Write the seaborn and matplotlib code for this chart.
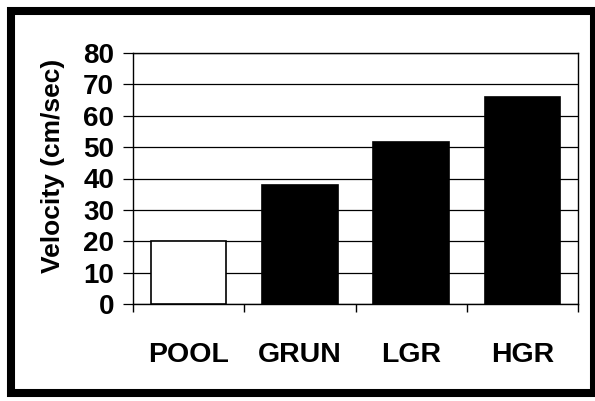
import matplotlib
matplotlib.use("Agg")
import matplotlib.pyplot as plt
import seaborn as sns
import pandas as pd
from matplotlib.patches import Rectangle

# values
categories = ["POOL", "GRUN", "LGR", "HGR"]
velocity = [20, 38, 51.5, 66]
bar_colors = ["white", "black", "black", "black"]
y_ticks = [0, 10, 20, 30, 40, 50, 60, 70, 80]

sns.set_theme(style="white")
plt.rcParams['font.family'] = ['Liberation Sans', 'DejaVu Sans']
plt.rcParams['font.weight'] = 'bold'
plt.rcParams['text.color'] = 'black'
plt.rcParams['axes.labelcolor'] = 'black'
plt.rcParams['xtick.color'] = 'black'
plt.rcParams['ytick.color'] = 'black'

df = pd.DataFrame({"site": categories, "velocity": velocity})

fig = plt.figure(figsize=(5.95, 4.01), dpi=100)
ax = fig.add_axes([133 / 595, 1 - 304 / 401, (578 - 133) / 595, (304 - 53) / 401])

sns.barplot(data=df, x="site", y="velocity", hue="site", palette=bar_colors,
            legend=False, width=0.68, edgecolor="black", linewidth=1.2,
            saturation=1, ax=ax, zorder=3)

ax.set_ylim(0, 80)
ax.set_xlim(-0.5, len(categories) - 0.5)
ax.set_yticks(y_ticks)
ax.set_yticklabels([str(t) for t in y_ticks], fontsize=20, fontweight="bold")
ax.yaxis.grid(True, color="black", linewidth=0.9, zorder=0)
ax.set_axisbelow(True)

# category labels sit well below the axis, ticks mark the boundaries
ax.set_xticks(range(len(categories)))
ax.set_xticklabels(categories, fontsize=20.5, fontweight="bold")
ax.set_xticks([i - 0.5 for i in range(len(categories) + 1)], minor=True)
ax.tick_params(axis="x", which="major", length=0, pad=27)
ax.tick_params(axis="x", which="minor", length=6, width=1, color="black", direction="out")
ax.tick_params(axis="y", length=7, width=0.9, color="black", direction="out", pad=6.5)
ax.tick_params(axis="both", bottom=True, left=True)
ax.xaxis.set_tick_params(which="minor", bottom=True)

for s in ax.spines.values():
    s.set_color("black")
    s.set_linewidth(1)

ax.set_xlabel("")
ax.set_ylabel("")
# y axis title placed where the scan has it
fig.text(53 / 595, 1 - 166 / 401, "Velocity (cm/sec)", rotation=90,
         fontsize=19, fontweight="bold", ha="center", va="center")

# thick outer frame around the whole chart
fig.patches.append(Rectangle((11 / 595, 1 - 393 / 401), (594 - 11) / 595, (393 - 11) / 401,
                             transform=fig.transFigure, fill=False,
                             edgecolor="black", linewidth=5.8))

fig.savefig("out.png", dpi=100)
